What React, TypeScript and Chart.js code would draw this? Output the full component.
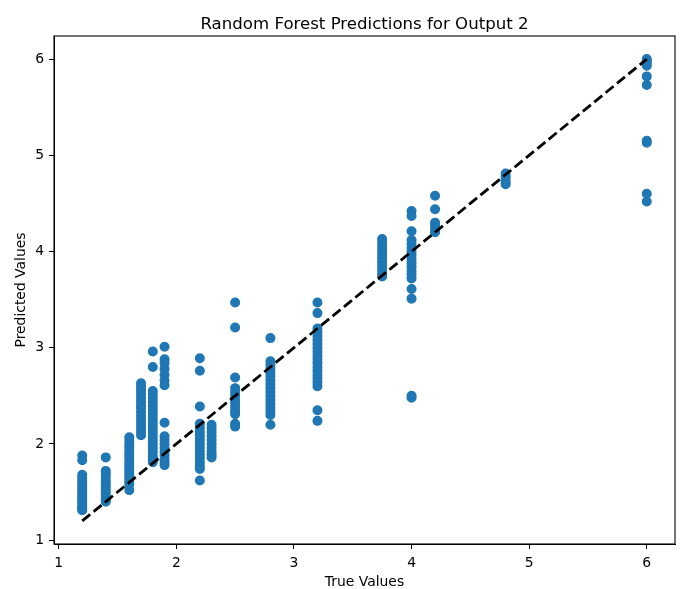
import React, { useEffect, useRef } from "react";
import { Chart, registerables } from "chart.js";

Chart.register(...registerables);

const chartTitle = "Random Forest Predictions for Output 2";
const xLabel = "True Values";
const yLabel = "Predicted Values";

const xTicks = [1, 2, 3, 4, 5, 6];
const yTicks = [1, 2, 3, 4, 5, 6];
const axisMin = 0.96;
const axisMax = 6.24;

// endpoints of the perfect-prediction diagonal
const diagonal = [1.2, 6];

// predicted values, grouped by their true value
const trueLevels = [1.2, 1.4, 1.6, 1.7, 1.8, 1.9, 2.2, 2.3, 2.5, 2.8, 3.2, 3.75, 4.0, 4.2, 4.8, 6.0];
const pred_1_2 = [1.88, 1.83, 1.68, 1.65, 1.62, 1.59, 1.56, 1.53, 1.51, 1.48, 1.45, 1.43, 1.40, 1.38, 1.36, 1.34, 1.32, 1.31];
const pred_1_4 = [1.86, 1.72, 1.69, 1.66, 1.62, 1.59, 1.56, 1.53, 1.50, 1.47, 1.44, 1.42, 1.40];
const pred_1_6 = [2.07, 2.03, 1.99, 1.96, 1.92, 1.89, 1.86, 1.82, 1.79, 1.76, 1.73, 1.70, 1.67, 1.64, 1.61, 1.58, 1.52];
const pred_1_7 = [2.63, 2.60, 2.56, 2.52, 2.48, 2.44, 2.40, 2.37, 2.33, 2.29, 2.25, 2.21, 2.17, 2.13, 2.09];
const pred_1_8 = [2.96, 2.80, 2.55, 2.51, 2.47, 2.43, 2.39, 2.35, 2.31, 2.27, 2.23, 2.19, 2.15, 2.11, 2.07, 2.03, 1.99, 1.95, 1.91, 1.87, 1.84, 1.81];
const pred_1_9 = [3.01, 2.88, 2.84, 2.78, 2.72, 2.66, 2.61, 2.22, 2.08, 2.04, 2.00, 1.96, 1.92, 1.88, 1.84, 1.81, 1.78];
const pred_2_2 = [2.89, 2.76, 2.39, 2.21, 2.17, 2.13, 2.09, 2.05, 2.01, 1.97, 1.93, 1.89, 1.85, 1.81, 1.77, 1.74, 1.62];
const pred_2_3 = [2.20, 2.16, 2.12, 2.08, 2.04, 2.00, 1.96, 1.92, 1.89, 1.86];
const pred_2_5 = [3.47, 3.21, 2.69, 2.58, 2.54, 2.50, 2.46, 2.42, 2.38, 2.34, 2.31, 2.21, 2.18];
const pred_2_8 = [3.10, 2.86, 2.82, 2.78, 2.74, 2.70, 2.66, 2.62, 2.58, 2.54, 2.50, 2.46, 2.42, 2.38, 2.34, 2.30, 2.20];
const pred_3_2 = [3.47, 3.36, 3.20, 3.16, 3.12, 3.08, 3.04, 3.00, 2.96, 2.92, 2.88, 2.84, 2.80, 2.76, 2.72, 2.68, 2.64, 2.60, 2.35, 2.24];
const pred_3_75 = [4.13, 4.09, 4.05, 4.01, 3.97, 3.93, 3.89, 3.85, 3.81, 3.77, 3.74];
const pred_4_0 = [4.42, 4.37, 4.21, 4.12, 4.08, 4.04, 4.00, 3.96, 3.92, 3.88, 3.84, 3.80, 3.76, 3.72, 3.61, 3.51, 2.50, 2.48];
const pred_4_2 = [4.58, 4.44, 4.30, 4.27, 4.23, 4.20];
const pred_4_8 = [4.81, 4.78, 4.75, 4.72, 4.70];
const pred_6_0 = [6.00, 5.98, 5.96, 5.93, 5.82, 5.73, 5.15, 5.13, 4.60, 4.52];

const predGroups = [
  pred_1_2, pred_1_4, pred_1_6, pred_1_7, pred_1_8, pred_1_9, pred_2_2, pred_2_3,
  pred_2_5, pred_2_8, pred_3_2, pred_3_75, pred_4_0, pred_4_2, pred_4_8, pred_6_0,
];

const FONT = "'DejaVu Sans', sans-serif";
const BLUE = "#1f77b4";

// axes box outline plus a title centred over the plot area
const framePlugin = {
  id: "frameAndTitle",
  afterDraw(chart: any) {
    const { ctx, chartArea: a } = chart;
    ctx.save();
    ctx.strokeStyle = "#000";
    ctx.lineWidth = 1.1;
    ctx.strokeRect(a.left, a.top, a.right - a.left, a.bottom - a.top);
    ctx.fillStyle = "#000";
    ctx.font = `16.6px ${FONT}`;
    ctx.textAlign = "center";
    ctx.textBaseline = "alphabetic";
    ctx.fillText(chartTitle, (a.left + a.right) / 2, 29);
    ctx.restore();
  },
};

export default function App() {
  const canvasRef = useRef<HTMLCanvasElement>(null);

  useEffect(() => {
    const points = trueLevels.flatMap((t, i) => predGroups[i].map((p) => ({ x: t, y: p })));
    const chart = new Chart(canvasRef.current!, {
      type: "scatter",
      data: {
        datasets: [
          {
            data: diagonal.map((v) => ({ x: v, y: v })),
            showLine: true,
            borderColor: "#000",
            borderWidth: 2.8,
            borderDash: [10.3, 4.4],
            pointRadius: 0,
            order: 0,
          },
          {
            data: points,
            backgroundColor: BLUE,
            borderColor: BLUE,
            borderWidth: 1.4,
            pointRadius: 4.3,
            order: 1,
          },
        ],
      },
      options: {
        animation: false,
        responsive: false,
        devicePixelRatio: 1,
        events: [],
        layout: { padding: { top: 36, right: 6, left: 0, bottom: 0 } },
        plugins: { legend: { display: false }, tooltip: { enabled: false }, title: { display: false } },
        scales: {
          x: {
            type: "linear",
            min: axisMin,
            max: axisMax,
            afterBuildTicks: (s: any) => { s.ticks = xTicks.map((v) => ({ value: v })); },
            afterFit: (s: any) => { s.height = 45; },
            grid: { drawOnChartArea: false, drawTicks: true, tickLength: 5, color: "#000", lineWidth: 1 },
            border: { display: true, color: "#000", width: 1 },
            ticks: { color: "#000", font: { family: FONT, size: 13.9 }, padding: 6, maxRotation: 0 },
            title: { display: true, text: xLabel, color: "#000", font: { family: FONT, size: 13.9 }, padding: { top: 0, bottom: -2 } },
          },
          y: {
            type: "linear",
            min: axisMin,
            max: axisMax,
            afterBuildTicks: (s: any) => { s.ticks = yTicks.map((v) => ({ value: v })); },
            afterFit: (s: any) => { s.width = 54; },
            grid: { drawOnChartArea: false, drawTicks: true, tickLength: 5, color: "#000", lineWidth: 1 },
            border: { display: true, color: "#000", width: 1 },
            ticks: { color: "#000", font: { family: FONT, size: 13.9 }, padding: 5 },
            title: { display: true, text: yLabel, color: "#000", font: { family: FONT, size: 13.9 }, padding: { top: 13, bottom: 0 } },
          },
        },
      },
      plugins: [framePlugin],
    });
    return () => chart.destroy();
  }, []);

  return (
    <div style={{ position: "fixed", left: 0, top: 0, width: 681, height: 589, background: "#fff" }}>
      <canvas ref={canvasRef} width={681} height={589} />
    </div>
  );
}
